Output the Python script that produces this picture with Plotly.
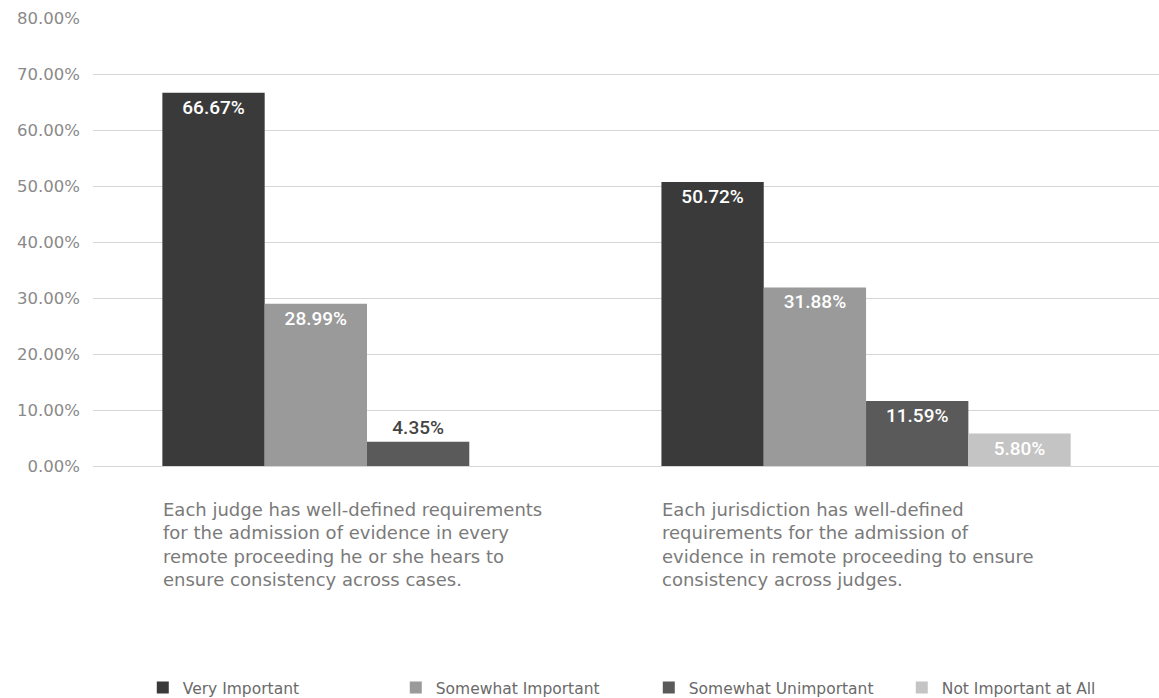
import plotly.graph_objects as go

categories = [
    "Each judge has well-defined requirements<br>for the admission of evidence in every<br>remote proceeding he or she hears to<br>ensure consistency across cases.",
    "Each jurisdiction has well-defined<br>requirements for the admission of<br>evidence in remote proceeding to ensure<br>consistency across judges.",
]
series_names = ["Very Important", "Somewhat Important", "Somewhat Unimportant", "Not Important at All"]
very_important = [66.67, 50.72]
somewhat_important = [28.99, 31.88]
somewhat_unimportant = [4.35, 11.59]
not_important = [None, 5.80]
tick_values = [0, 10, 20, 30, 40, 50, 60, 70, 80]
tick_labels = [f"{v:.2f}%" for v in tick_values]

colors = ["#3a3a3a", "#9a9a9a", "#5a5a5a", "#c4c4c4"]
series = [very_important, somewhat_important, somewhat_unimportant, not_important]

LIGHT_FONT = "DejaVu Sans ExtraLight, DejaVu Sans, sans-serif"
LABEL_FONT = "Roboto, sans-serif"

fig = go.Figure()
xpos = list(range(len(categories)))
for name, vals, col in zip(series_names, series, colors):
    labels = ["" if v is None else f"{v:.2f}%" for v in vals]
    positions = ["outside" if (v is not None and v < 5) else "inside" for v in vals]
    fcolors = ["#444444" if p == "outside" else "white" for p in positions]
    fig.add_trace(go.Bar(
        x=xpos, y=vals, name=name,
        marker=dict(color=col, line=dict(width=0)),
        text=labels, textposition=positions,
        insidetextanchor="end",
        textfont=dict(family=LABEL_FONT, size=19, weight=500, color=fcolors),
        outsidetextfont=dict(family=LABEL_FONT, size=19, weight=500, color="#444444"),
        insidetextfont=dict(family=LABEL_FONT, size=19, weight=500, color="white"),
        cliponaxis=False,
        textangle=0,
    ))

annotations = []
for i, cat in enumerate(categories):
    annotations.append(dict(
        x=i - 0.412, y=1.0 - (497 - 18) / 448, xref="x", yref="paper",
        text=cat, showarrow=False, xanchor="left", yanchor="top", align="left",
        font=dict(family=LIGHT_FONT, size=18, color="#7a7a7a"),
    ))

fig.update_layout(
    width=1159, height=698,
    margin=dict(l=93, r=0, t=18, b=232, autoexpand=False),
    paper_bgcolor="white", plot_bgcolor="white",
    barmode="group", bargap=0.18, bargroupgap=0,
    showlegend=True,
    legend=dict(orientation="h", x=0.0467, y=0.0143, xref="paper", yref="container",
                xanchor="left", yanchor="middle",
                font=dict(family=LIGHT_FONT, size=15.5, color="#6a6a6a"),
                traceorder="normal", entrywidth=208, entrywidthmode="pixels"),
    xaxis=dict(range=[-0.549, 1.587], showticklabels=False, showgrid=False,
               zeroline=False, showline=False, fixedrange=True),
    yaxis=dict(range=[0, 80], tickvals=tick_values, ticktext=tick_labels,
               showgrid=True, gridcolor="#d6d6d6", gridwidth=1,
               zeroline=True, zerolinecolor="#d6d6d6", zerolinewidth=1,
               ticks="", ticklabelstandoff=12,
               tickfont=dict(family=LIGHT_FONT, size=16.5, color="#8a8a8a")),
    annotations=annotations,
)

fig.write_html("out.html")
